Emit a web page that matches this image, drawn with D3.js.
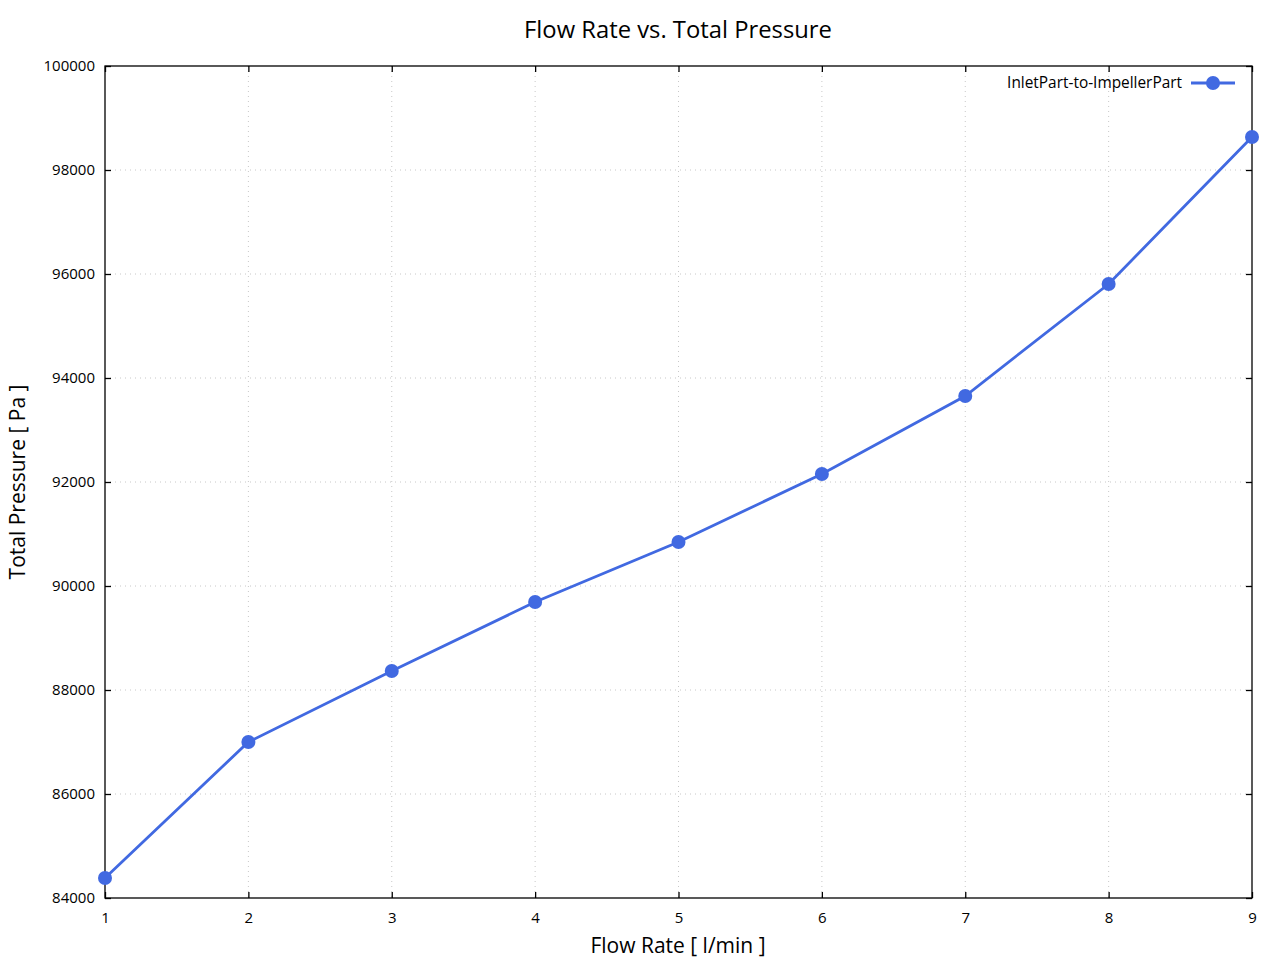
<!DOCTYPE html>
<html>
<head>
<meta charset="utf-8">
<script src="https://cdn.jsdelivr.net/npm/d3@7"></script>
<style>
body { margin: 0; background: #fff; }
svg { display: block; }
svg text { font-family: "Open Sans", "Noto Sans", sans-serif; }
</style>
</head>
<body>
<svg id="chart" width="1280" height="960"></svg>
<script>
const flowRates = [1, 2, 3, 4, 5, 6, 7, 8, 9];
const pressures = [84385, 87000, 88365, 89692, 90846, 92154, 93654, 95808, 98635];
const xTicks = [1, 2, 3, 4, 5, 6, 7, 8, 9];
const yTicks = [84000, 86000, 88000, 90000, 92000, 94000, 96000, 98000, 100000];
const seriesName = "InletPart-to-ImpellerPart";
const titleText = "Flow Rate vs. Total Pressure";
const xLabel = "Flow Rate [ l/min ]";
const yLabel = "Total Pressure [ Pa ]";

const svg = d3.select("#chart");
const L = 105, R = 1252, T = 66, B = 898;
const color = "#4169e1";

const x = d3.scaleLinear().domain([1, 9]).range([L, R]);
const y = d3.scaleLinear().domain([84000, 100000]).range([B, T]);

// grid
const grid = svg.append("g");
grid.selectAll(".gx").data(xTicks.slice(1, -1)).enter().append("line")
  .attr("x1", d => x(d)).attr("x2", d => x(d)).attr("y1", T).attr("y2", B)
  .attr("stroke", "#c8c8c8").attr("stroke-width", 1).attr("stroke-dasharray", "1,4");
grid.selectAll(".gy").data(yTicks.slice(1, -1)).enter().append("line")
  .attr("x1", L).attr("x2", R).attr("y1", d => y(d)).attr("y2", d => y(d))
  .attr("stroke", "#c8c8c8").attr("stroke-width", 1).attr("stroke-dasharray", "1,4");

// axes
const fmt = d3.format("d");
const axB = svg.append("g").attr("transform", `translate(0,${B})`)
  .call(d3.axisBottom(x).tickValues(xTicks).tickFormat(fmt).tickSizeInner(-6).tickSizeOuter(0).tickPadding(14));
const axT = svg.append("g").attr("transform", `translate(0,${T})`)
  .call(d3.axisTop(x).tickValues(xTicks).tickFormat("").tickSizeInner(-6).tickSizeOuter(0));
const axL = svg.append("g").attr("transform", `translate(${L},0)`)
  .call(d3.axisLeft(y).tickValues(yTicks).tickFormat(fmt).tickSizeInner(-6).tickSizeOuter(0).tickPadding(10));
const axR = svg.append("g").attr("transform", `translate(${R},0)`)
  .call(d3.axisRight(y).tickValues(yTicks).tickFormat("").tickSizeInner(-6).tickSizeOuter(0));
[axB, axT, axL, axR].forEach(a => {
  a.attr("font-family", null).attr("font-size", null);
  a.selectAll(".domain").remove();
  a.selectAll("line").attr("stroke", "#000").attr("stroke-width", 1.3);
  a.selectAll("text").attr("fill", "#000").style("font-size", "15px");
});
svg.append("rect").attr("x", L).attr("y", T).attr("width", R - L).attr("height", B - T)
  .attr("fill", "none").attr("stroke", "#000").attr("stroke-width", 1.3);

// line
svg.append("path").datum(flowRates.map((f, i) => [f, pressures[i]]))
  .attr("d", d3.line().x(d => x(d[0])).y(d => y(d[1])))
  .attr("fill", "none").attr("stroke", color).attr("stroke-width", 2.8);
svg.selectAll(".pt").data(flowRates.map((f, i) => [f, pressures[i]])).enter().append("circle")
  .attr("cx", d => x(d[0])).attr("cy", d => y(d[1])).attr("r", 7).attr("fill", color);

// legend
const lg = svg.append("g");
lg.append("line").attr("x1", 1191).attr("x2", 1235).attr("y1", 83).attr("y2", 83)
  .attr("stroke", color).attr("stroke-width", 2.8);
lg.append("circle").attr("cx", 1213).attr("cy", 83).attr("r", 7).attr("fill", color);
lg.append("text").attr("x", 1182).attr("y", 88).attr("text-anchor", "end")
  .style("font-size", "15.4px").attr("fill", "#000").text(seriesName);

// titles
svg.append("text").attr("x", 678).attr("y", 38).attr("text-anchor", "middle")
  .style("font-size", "23.8px").attr("fill", "#000").text(titleText);
svg.append("text").attr("x", 678).attr("y", 953).attr("text-anchor", "middle")
  .style("font-size", "21px").attr("fill", "#000").text(xLabel);
svg.append("text").attr("transform", "translate(25,482) rotate(-90)").attr("text-anchor", "middle")
  .style("font-size", "21px").attr("fill", "#000").text(yLabel);
</script>
</body>
</html>
